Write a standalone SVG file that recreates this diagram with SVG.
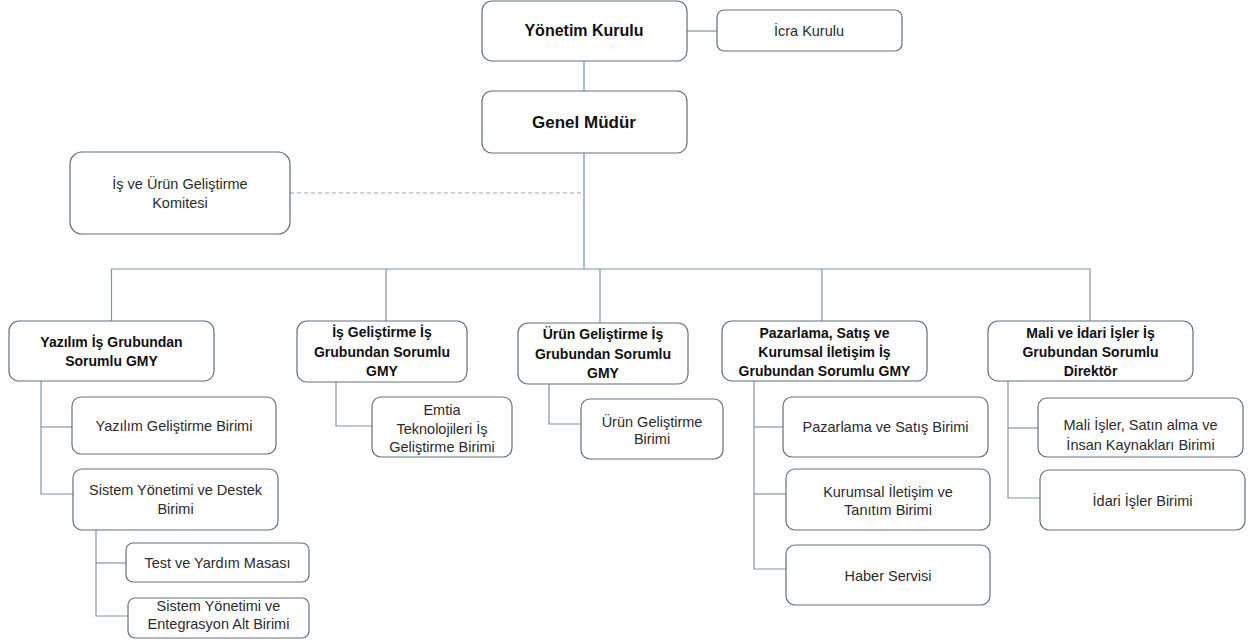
<svg xmlns="http://www.w3.org/2000/svg" width="1256" height="643" viewBox="0 0 1256 643">
<style>
.b{fill:#fff;stroke:#5f6f7e;stroke-width:1.2}
.t{font-family:"Liberation Sans",Arial,sans-serif;font-size:14.5px;fill:#2b2b2b;text-anchor:middle}
.h{font-family:"Liberation Sans",Arial,sans-serif;font-size:14px;font-weight:bold;fill:#111;text-anchor:middle}
.c{fill:none;stroke:#7f95a6;stroke-width:1.2}
.m{fill:none;stroke:#9dbbcc;stroke-width:1.8}
.d{fill:none;stroke:#8ea4b4;stroke-width:1;stroke-dasharray:4 3}
</style>
<rect width="1256" height="643" fill="#fff"/>
<g id="connectors">
<line class="c" x1="687" y1="31" x2="717" y2="31"/>
<line class="m" x1="584" y1="61" x2="584" y2="91"/>
<line class="m" x1="584" y1="153" x2="584" y2="269"/>
<line class="d" x1="290" y1="193" x2="581" y2="193"/>
<polyline class="c" points="111.5,321 111.5,269 1090,269 1090,321"/>
<line class="c" x1="386" y1="269" x2="386" y2="321"/>
<line class="c" x1="600" y1="269" x2="600" y2="323"/>
<line class="c" x1="822" y1="269" x2="822" y2="321"/>
<polyline class="c" points="41,381 41,494 73,494"/>
<line class="c" x1="41" y1="427" x2="72" y2="427"/>
<polyline class="c" points="96,530 96,616 128,616"/>
<line class="c" x1="96" y1="563" x2="126" y2="563"/>
<polyline class="c" points="336,382 336,426 372,426"/>
<polyline class="c" points="549,384 549,424 581,424"/>
<polyline class="c" points="754,381 754,569 786,569"/>
<line class="c" x1="754" y1="427" x2="783" y2="427"/>
<line class="c" x1="754" y1="494" x2="786" y2="494"/>
<polyline class="c" points="1008,381 1008,498 1040,498"/>
<line class="c" x1="1008" y1="428" x2="1038" y2="428"/>
</g>
<g id="yonetim"><rect class="b" x="482" y="1" width="205" height="60" rx="10"/><text class="h" style="font-size:16px" x="584" y="36">Yönetim Kurulu</text></g>
<g id="icra"><rect class="b" x="717" y="10" width="185" height="41" rx="7"/><text class="t" x="809" y="35.5">İcra Kurulu</text></g>
<g id="genel"><rect class="b" x="482" y="91" width="205" height="62" rx="10"/><text class="h" style="font-size:17px" x="584" y="128">Genel Müdür</text></g>
<g id="komite"><rect class="b" x="70" y="152" width="220" height="82" rx="12"/><text class="t" x="180" y="189">İş ve Ürün Geliştirme</text><text class="t" x="180" y="207.5">Komitesi</text></g>
<g id="yazilim_gmy"><rect class="b" x="9" y="321" width="205" height="60" rx="10"/><text class="h" x="111.5" y="347">Yazılım İş Grubundan</text><text class="h" x="111.5" y="366">Sorumlu GMY</text></g>
<g id="is_gmy"><rect class="b" x="297" y="321" width="170" height="61" rx="10"/><text class="h" x="382" y="337">İş Geliştirme İş</text><text class="h" x="382" y="357">Grubundan Sorumlu</text><text class="h" x="382" y="376">GMY</text></g>
<g id="urun_gmy"><rect class="b" x="518" y="323" width="170" height="61" rx="10"/><text class="h" x="603" y="339">Ürün Geliştirme İş</text><text class="h" x="603" y="359">Grubundan Sorumlu</text><text class="h" x="603" y="378">GMY</text></g>
<g id="pazarlama_gmy"><rect class="b" x="722" y="321" width="205" height="60" rx="10"/><text class="h" x="824.5" y="338">Pazarlama, Satış ve</text><text class="h" x="824.5" y="357">Kurumsal İletişim İş</text><text class="h" x="824.5" y="376">Grubundan Sorumlu GMY</text></g>
<g id="mali_gmy"><rect class="b" x="988" y="321" width="205" height="60" rx="10"/><text class="h" x="1090.5" y="338">Mali ve İdari İşler İş</text><text class="h" x="1090.5" y="357">Grubundan Sorumlu</text><text class="h" x="1090.5" y="376">Direktör</text></g>
<g id="yazilim_gelistirme"><rect class="b" x="72" y="397" width="204" height="57" rx="9"/><text class="t" x="174" y="430.5">Yazılım Geliştirme  Birimi</text></g>
<g id="sistem_destek"><rect class="b" x="73" y="469" width="205" height="61" rx="9"/><text class="t" x="175.5" y="495">Sistem Yönetimi ve Destek</text><text class="t" x="175.5" y="514">Birimi</text></g>
<g id="test"><rect class="b" x="126" y="543" width="183" height="39" rx="7"/><text class="t" x="217.5" y="567.5">Test ve Yardım Masası</text></g>
<g id="entegrasyon"><rect class="b" x="128" y="598" width="181" height="40" rx="7"/><text class="t" x="218.5" y="611">Sistem Yönetimi ve</text><text class="t" x="218.5" y="628.5">Entegrasyon Alt Birimi</text></g>
<g id="emtia"><rect class="b" x="372" y="397" width="140" height="60" rx="9"/><text class="t" x="442" y="415">Emtia</text><text class="t" x="442" y="433.5">Teknolojileri İş</text><text class="t" x="442" y="452">Geliştirme  Birimi</text></g>
<g id="urun_birim"><rect class="b" x="581" y="399" width="142" height="60" rx="9"/><text class="t" x="652" y="426.5">Ürün Geliştirme</text><text class="t" x="652" y="444">Birimi</text></g>
<g id="pazarlama_birim"><rect class="b" x="783" y="397" width="205" height="60" rx="9"/><text class="t" x="885.5" y="431.5">Pazarlama ve Satış Birimi</text></g>
<g id="kurumsal"><rect class="b" x="786" y="469" width="204" height="61" rx="9"/><text class="t" x="888" y="497">Kurumsal İletişim ve</text><text class="t" x="888" y="514.5">Tanıtım Birimi</text></g>
<g id="haber"><rect class="b" x="786" y="545" width="204" height="60" rx="9"/><text class="t" x="888" y="580.5">Haber Servisi</text></g>
<g id="mali_birim"><rect class="b" x="1038" y="398" width="205" height="59" rx="9"/><text class="t" x="1140.5" y="430">Mali İşler, Satın alma ve</text><text class="t" x="1140.5" y="449.5">İnsan Kaynakları Birimi</text></g>
<g id="idari"><rect class="b" x="1040" y="470" width="205" height="60" rx="9"/><text class="t" x="1142.5" y="505.5">İdari İşler Birimi</text></g>
</svg>
